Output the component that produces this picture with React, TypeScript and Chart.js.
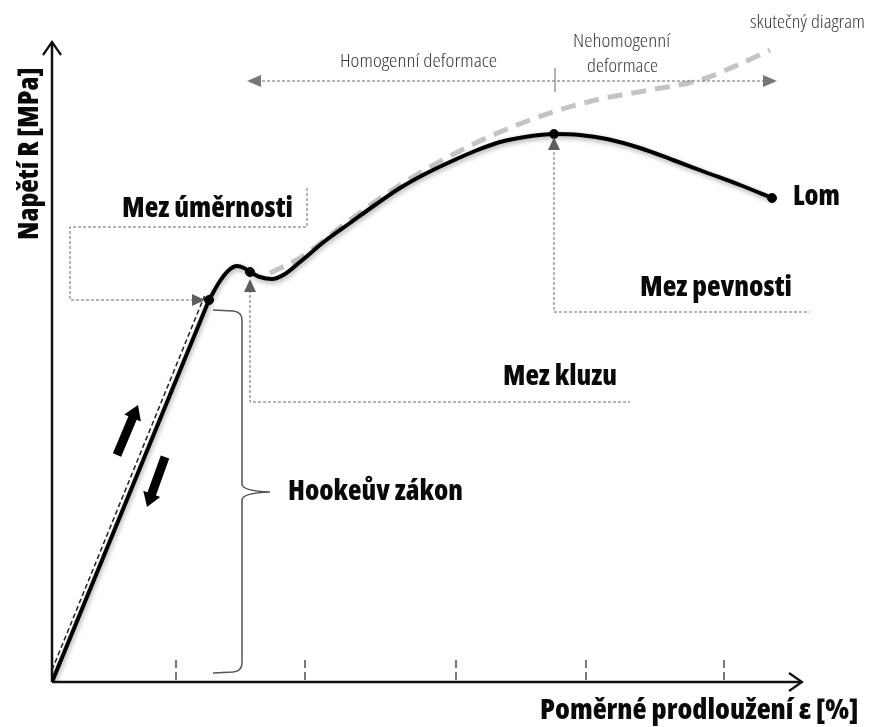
import React, { useEffect, useRef } from "react";
import { Chart, registerables } from "chart.js";

Chart.register(...registerables);

// ε [%] (strain) and R [MPa] (stress)
const hookeStrain = [0, 6.28];
const hookeStress = [0, 382];

const curveStrain = [6.28, 6.72, 7.08, 7.4, 7.68, 7.92, 8.32, 8.8, 9.32, 9.92, 10.92, 11.92, 12.92, 13.92, 14.92, 15.92, 16.92, 17.92, 18.92, 20.08, 21.12, 22.2, 23.52, 24.84, 26.12, 27.52, 28.8];
const curveStress = [382, 401, 412, 416, 414, 410, 405, 403, 408, 420, 441, 459, 477, 494, 508, 520, 531, 540, 545, 548, 547, 543, 534, 522, 510, 497, 484];

const trueStrain = [8.72, 9.92, 11.92, 13.92, 15.92, 17.92, 20.04, 21.92, 23.92, 25.92, 27.52, 28.72];
const trueStress = [409, 424, 462, 497, 526, 550, 570, 583, 592, 602, 618, 632];

const guideStrain = [0, 6.1];
const guideStress = [12, 386];

const keyStrain = [6.28, 7.92, 20.08, 28.8];
const keyStress = [382, 410, 548, 484];

const xTickValues = [4.96, 10.12, 16.16, 21.36, 26.88];

const X_MAX = 30;
const Y_MAX = 640;

const toPoints = (xs: number[], ys: number[]) => xs.map((x, i) => ({ x, y: ys[i] }));

const BOLD = "800 28px 'Open Sans'";
const LIGHT = "300 18px 'Open Sans'";

function drawText(ctx: CanvasRenderingContext2D, text: string, x: number, y: number, width: number, font: string, color: string, rotate = false) {
  ctx.save();
  ctx.font = font;
  try { (ctx as any).fontStretch = "condensed"; } catch (e) {}
  ctx.fillStyle = color;
  ctx.textBaseline = "alphabetic";
  ctx.textAlign = "left";
  const w = ctx.measureText(text).width;
  ctx.translate(x, y);
  if (rotate) ctx.rotate(-Math.PI / 2);
  ctx.scale(width / w, 1);
  ctx.fillText(text, 0, 0);
  ctx.restore();
}

function triangle(ctx: CanvasRenderingContext2D, tx: number, ty: number, dx: number, dy: number, len: number, half: number, color: string) {
  const bx = tx - dx * len, by = ty - dy * len;
  const nx = -dy, ny = dx;
  ctx.save();
  ctx.fillStyle = color;
  ctx.beginPath();
  ctx.moveTo(tx, ty);
  ctx.lineTo(bx + nx * half, by + ny * half);
  ctx.lineTo(bx - nx * half, by - ny * half);
  ctx.closePath();
  ctx.fill();
  ctx.restore();
}

function blockArrow(ctx: CanvasRenderingContext2D, x1: number, y1: number, x2: number, y2: number) {
  const L = Math.hypot(x2 - x1, y2 - y1);
  const dx = (x2 - x1) / L, dy = (y2 - y1) / L;
  const head = 13;
  ctx.save();
  ctx.strokeStyle = "#000";
  ctx.lineWidth = 9;
  ctx.lineCap = "butt";
  ctx.beginPath();
  ctx.moveTo(x1, y1);
  ctx.lineTo(x2 - dx * head, y2 - dy * head);
  ctx.stroke();
  ctx.restore();
  triangle(ctx, x2, y2, dx, dy, head + 1, 9, "#000");
}

const shadowPlugin = {
  id: "lineShadow",
  beforeDatasetDraw(chart: any, args: any) {
    const ds = chart.data.datasets[args.index];
    if (ds.shadow) {
      const ctx = chart.ctx;
      ctx.save();
      ctx.shadowColor = "rgba(0,0,0,0.35)";
      ctx.shadowBlur = 5;
      ctx.shadowOffsetX = 1;
      ctx.shadowOffsetY = 2;
    }
  },
  afterDatasetDraw(chart: any, args: any) {
    const ds = chart.data.datasets[args.index];
    if (ds.shadow) chart.ctx.restore();
  },
};

const schematicPlugin = {
  id: "schematic",
  beforeDatasetsDraw(chart: any) {
    const ctx: CanvasRenderingContext2D = chart.ctx;
    const X = (v: number) => chart.scales.x.getPixelForValue(v);
    const Y = (v: number) => chart.scales.y.getPixelForValue(v);
    ctx.save();
    // axes
    ctx.strokeStyle = "#111";
    ctx.lineWidth = 2.5;
    ctx.beginPath();
    ctx.moveTo(X(0), Y(0));
    ctx.lineTo(X(X_MAX), Y(0));
    ctx.moveTo(X(0), Y(0));
    ctx.lineTo(X(0), Y(Y_MAX));
    ctx.stroke();
    ctx.lineWidth = 2.2;
    ctx.beginPath();
    ctx.moveTo(X(X_MAX) - 13, Y(0) - 9);
    ctx.lineTo(X(X_MAX), Y(0));
    ctx.lineTo(X(X_MAX) - 13, Y(0) + 9);
    ctx.moveTo(X(0) - 9, Y(Y_MAX) + 13);
    ctx.lineTo(X(0), Y(Y_MAX));
    ctx.lineTo(X(0) + 9, Y(Y_MAX) + 13);
    ctx.stroke();
    // ticks
    ctx.strokeStyle = "#333";
    ctx.lineWidth = 1.3;
    ctx.setLineDash([8, 4]);
    xTickValues.forEach((v) => {
      ctx.beginPath();
      ctx.moveTo(X(v), Y(22));
      ctx.lineTo(X(v), Y(0));
      ctx.stroke();
    });
    ctx.setLineDash([]);
    ctx.restore();
  },
  afterDatasetsDraw(chart: any) {
    const ctx: CanvasRenderingContext2D = chart.ctx;
    const X = (v: number) => chart.scales.x.getPixelForValue(v);
    const Y = (v: number) => chart.scales.y.getPixelForValue(v);
    const gray = "#6a6a6a";
    ctx.save();

    // dashed connector lines
    ctx.strokeStyle = gray;
    ctx.lineWidth = 1;
    ctx.setLineDash([3, 2]);
    const poly = (pts: number[][]) => {
      ctx.beginPath();
      pts.forEach(([a, b], i) => (i ? ctx.lineTo(X(a), Y(b)) : ctx.moveTo(X(a), Y(b))));
      ctx.stroke();
    };
    // Mez úměrnosti
    poly([[10.2, 494], [10.2, 455], [0.72, 455], [0.72, 382], [5.6, 382]]);
    // Mez kluzu
    poly([[7.92, 392], [7.92, 280], [23.12, 280]]);
    // Mez pevnosti
    poly([[20.08, 535], [20.08, 370], [30.32, 370]]);
    // deformation range line
    poly([[8.2, 601], [28.6, 601]]);
    ctx.setLineDash([]);
    ctx.beginPath();
    ctx.moveTo(X(20.12), Y(614));
    ctx.lineTo(X(20.12), Y(590));
    ctx.stroke();

    const g2 = "#5e5e5e";
    triangle(ctx, X(6.12), Y(382), 1, 0, 13, 6, g2);
    triangle(ctx, X(7.92), Y(403), 0, -1, 13, 6, g2);
    triangle(ctx, X(20.08), Y(545), 0, -1, 13, 6, g2);
    triangle(ctx, X(7.8), Y(601), -1, 0, 14, 6, "#777");
    triangle(ctx, X(29.0), Y(601), 1, 0, 14, 6, "#777");

    // Hooke brace
    const bx = X(7.6), top = Y(372), bot = Y(9), mid = Y(190), tip = X(8.72), lx = X(6.44);
    ctx.strokeStyle = "#555";
    ctx.lineWidth = 1.5;
    ctx.beginPath();
    ctx.moveTo(lx, top);
    ctx.lineTo(bx - 9, top + 1);
    ctx.quadraticCurveTo(bx, top + 2, bx, top + 10);
    ctx.lineTo(bx, mid - 8);
    ctx.quadraticCurveTo(bx, mid - 1, tip, mid);
    ctx.quadraticCurveTo(bx, mid + 1, bx, mid + 8);
    ctx.lineTo(bx, bot - 10);
    ctx.quadraticCurveTo(bx, bot - 2, bx - 9, bot - 1);
    ctx.lineTo(lx, bot);
    ctx.stroke();

    // loading / unloading arrows
    blockArrow(ctx, X(2.6), Y(227), X(3.44), Y(277));
    blockArrow(ctx, X(4.52), Y(225), X(3.8), Y(175));

    // texts
    const dark = "#0a0a0a";
    drawText(ctx, "Mez úměrnosti", X(2.8), Y(465), 171, BOLD, dark);
    drawText(ctx, "Mez kluzu", X(18.04), Y(297), 114, BOLD, dark);
    drawText(ctx, "Mez pevnosti", X(23.52), Y(386), 152, BOLD, dark);
    drawText(ctx, "Lom", X(29.64), Y(477), 47, BOLD, dark);
    drawText(ctx, "Hookeův zákon", X(9.44), Y(182), 175, BOLD, dark);
    drawText(ctx, "Poměrné prodloužení ε [%]", X(19.52), Y(-37), 318, BOLD, dark);
    drawText(ctx, "Napětí R [MPa]", X(-0.56), Y(442), 172, BOLD, dark, true);

    const lt = "#3a3a3a";
    drawText(ctx, "Homogenní deformace", X(11.52), Y(615), 157, LIGHT, lt);
    drawText(ctx, "Nehomogenní", X(20.84), Y(635), 97, LIGHT, lt);
    drawText(ctx, "deformace", X(21.4), Y(610), 71, LIGHT, lt);
    drawText(ctx, "skutečný diagram", X(27.92), Y(654), 115, LIGHT, lt);

    ctx.restore();
  },
};

export default function App() {
  const ref = useRef<HTMLCanvasElement | null>(null);
  useEffect(() => {
    if (!ref.current) return;
    const chart = new Chart(ref.current, {
      type: "scatter",
      data: {
        datasets: [
          {
            label: "Smluvní diagram – lineární část",
            data: toPoints(hookeStrain, hookeStress),
            showLine: true,
            borderColor: "#000",
            borderWidth: 4,
            pointRadius: 0,
            tension: 0,
            order: 2,
            shadow: true,
          } as any,
          {
            label: "Smluvní diagram",
            data: toPoints(curveStrain, curveStress),
            showLine: true,
            borderColor: "#000",
            borderWidth: 4,
            pointRadius: 0,
            cubicInterpolationMode: "monotone",
            borderCapStyle: "round",
            order: 2,
            shadow: true,
          } as any,
          {
            label: "Skutečný diagram",
            data: toPoints(trueStrain, trueStress),
            showLine: true,
            borderColor: "#c4c4c4",
            borderWidth: 5,
            borderDash: [15, 9],
            pointRadius: 0,
            cubicInterpolationMode: "monotone",
            order: 4,
          } as any,
          {
            label: "Hookeův zákon",
            data: toPoints(guideStrain, guideStress),
            showLine: true,
            borderColor: "#222",
            borderWidth: 1.5,
            borderDash: [5, 3],
            pointRadius: 0,
            order: 3,
          } as any,
          {
            label: "Body",
            data: toPoints(keyStrain, keyStress),
            showLine: false,
            pointRadius: 4.5,
            pointBackgroundColor: "#000",
            pointBorderColor: "#000",
            order: 1,
          } as any,
        ],
      },
      options: {
        responsive: false,
        animation: false,
        devicePixelRatio: 1,
        events: [],
        layout: { padding: { left: 52, right: 69, top: 42, bottom: 45 } },
        scales: {
          x: { type: "linear", min: 0, max: X_MAX, display: false },
          y: { type: "linear", min: 0, max: Y_MAX, display: false },
        },
        plugins: { legend: { display: false }, tooltip: { enabled: false } },
      },
      plugins: [shadowPlugin, schematicPlugin],
    });
    return () => chart.destroy();
  }, []);
  return (
    <div style={{ position: "fixed", left: 0, top: 0, width: 871, height: 727, background: "#fff" }}>
      <canvas ref={ref} width={871} height={727} style={{ display: "block" }} />
    </div>
  );
}
